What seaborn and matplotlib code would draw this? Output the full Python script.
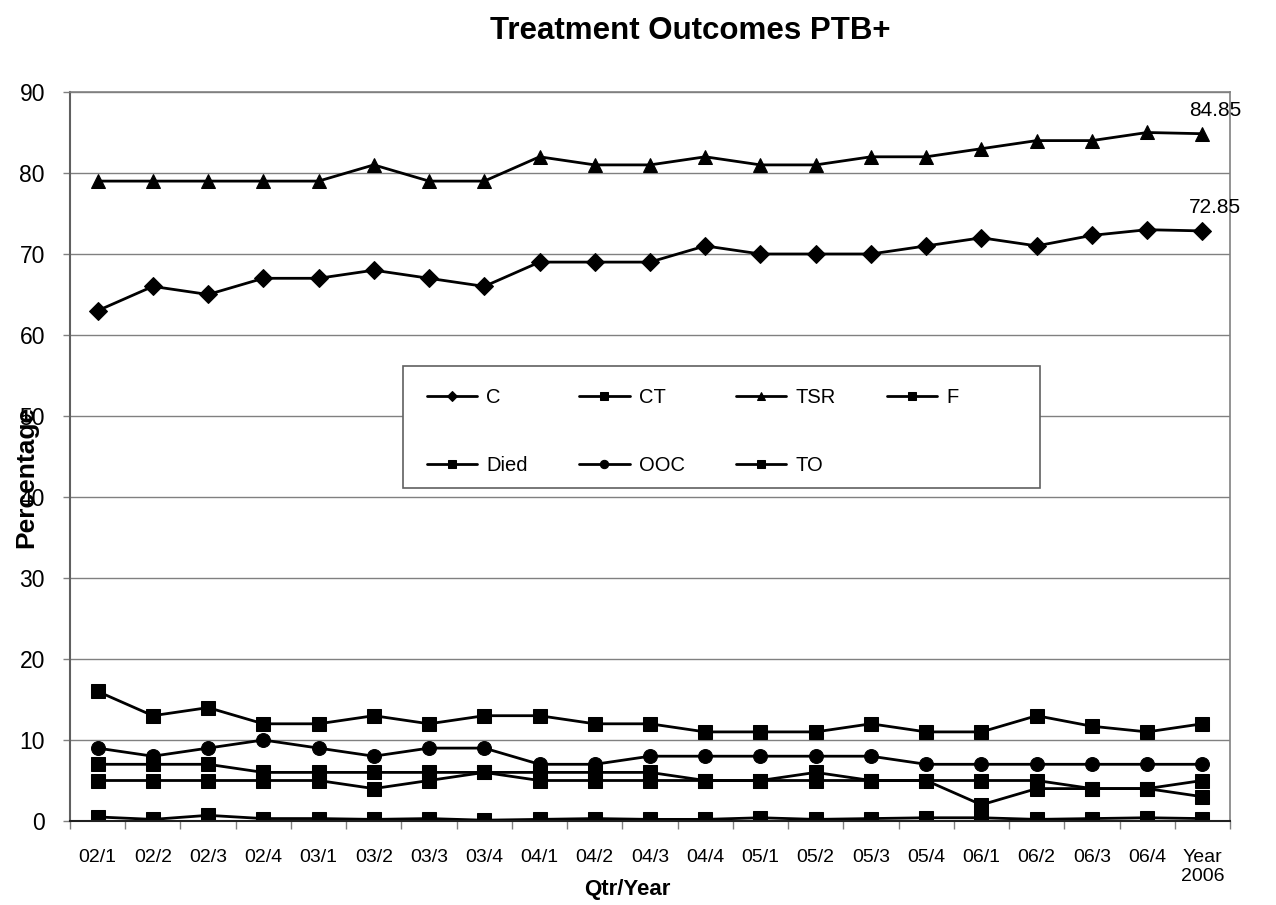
import numpy as np
import pandas as pd
import matplotlib
matplotlib.use("Agg")
import matplotlib.pyplot as plt
from matplotlib.patches import Rectangle
import seaborn as sns
from matplotlib.ticker import FixedLocator

categories = ["02/1", "02/2", "02/3", "02/4", "03/1", "03/2", "03/3", "03/4",
              "04/1", "04/2", "04/3", "04/4", "05/1", "05/2", "05/3", "05/4",
              "06/1", "06/2", "06/3", "06/4", "Year\n2006"]
C = [63, 66, 65, 67, 67, 68, 67, 66, 69, 69, 69, 71, 70, 70, 70, 71, 72, 71, 72.3, 73, 72.85]
CT = [16, 13, 14, 12, 12, 13, 12, 13, 13, 12, 12, 11, 11, 11, 12, 11, 11, 13, 11.7, 11, 12]
TSR = [79, 79, 79, 79, 79, 81, 79, 79, 82, 81, 81, 82, 81, 81, 82, 82, 83, 84, 84, 85, 84.85]
F = [0.5, 0.2, 0.7, 0.3, 0.3, 0.2, 0.3, 0.1, 0.2, 0.3, 0.2, 0.2, 0.4, 0.2, 0.3, 0.4, 0.4, 0.2, 0.3, 0.4, 0.3]
Died = [7, 7, 7, 6, 6, 6, 6, 6, 6, 6, 6, 5, 5, 6, 5, 5, 5, 5, 4, 4, 3]
OOC = [9, 8, 9, 10, 9, 8, 9, 9, 7, 7, 8, 8, 8, 8, 8, 7, 7, 7, 7, 7, 7]
TO = [5, 5, 5, 5, 5, 4, 5, 6, 5, 5, 5, 5, 5, 5, 5, 5, 2, 4, 4, 4, 5]

series = [("C", C, "D", 9), ("CT", CT, "s", 10), ("TSR", TSR, "^", 10),
          ("F", F, "s", 10), ("Died", Died, "s", 10), ("OOC", OOC, "o", 10),
          ("TO", TO, "s", 10)]

sns.set_theme(style="white")
plt.rcParams['font.family'] = ['Liberation Sans', 'DejaVu Sans']
for k in ["text.color", "axes.labelcolor", "xtick.color", "ytick.color"]:
    plt.rcParams[k] = "black"

fig = plt.figure(figsize=(12.76, 9.05), dpi=100)
ax = fig.add_axes([70/1276, 1-821/905, 1160/1276, 729/905])

x = np.arange(len(categories))
handles = {}
for name, vals, mk, ms in series:
    sns.lineplot(x=x, y=vals, ax=ax, color="black", marker=mk, markersize=ms,
                 markeredgecolor="black", markerfacecolor="black",
                 linewidth=2.0, label=name, legend=False)
    handles[name] = ax.lines[-1]

ax.set_xlim(-0.5, len(categories) - 0.5)
ax.set_ylim(0, 90)
ax.set_yticks(np.arange(0, 91, 10))
ax.yaxis.grid(True, color="#808080", linewidth=1.0)
ax.set_axisbelow(True)
ax.set_xticks(x)
ax.set_xticklabels(categories, fontsize=14, linespacing=1.15)
ax.xaxis.set_minor_locator(FixedLocator(np.arange(-0.5, len(categories), 1)))
ax.tick_params(axis="x", which="major", length=0, pad=20)
ax.tick_params(axis="x", which="minor", length=6, width=1, color="#808080", direction="out", bottom=True)
ax.tick_params(axis="y", which="major", length=5, width=1, color="#808080", direction="out", left=True,
               labelsize=16.5, pad=13)

for side in ["top", "right"]:
    ax.spines[side].set_color("#808080")
    ax.spines[side].set_linewidth(1.2)
ax.spines["left"].set_color("#606060")
ax.spines["left"].set_linewidth(1.5)
ax.spines["bottom"].set_color("#202020")
ax.spines["bottom"].set_linewidth(1.5)

ax.set_xlabel("Qtr/Year", fontsize=16, fontweight="bold")
ax.xaxis.set_label_coords((627-70)/1160, (821-879)/729)
ax.set_ylabel("Percentage", fontsize=19, fontweight="bold")
ax.yaxis.set_label_coords((38-70)/1160, (821-477)/729)

fig.suptitle("Treatment Outcomes PTB+", fontsize=22.5, fontweight="bold", x=690/1276, y=1-16/905)

# data labels on the last points
last = len(categories) - 1
ax.annotate(f"{TSR[-1]:.2f}", (last, TSR[-1]), xytext=(9, 17), textcoords="offset points",
            ha="center", va="center", fontsize=15)
ax.annotate(f"{C[-1]:.2f}", (last, C[-1]), xytext=(9, 17), textcoords="offset points",
            ha="center", va="center", fontsize=15)

# legend frame
fig.add_artist(Rectangle((403/1276, 1-488/905), 637/1276, 122/905, transform=fig.transFigure,
                         fill=True, facecolor="white", edgecolor="#606060", linewidth=1.2, zorder=5))
order = ["C", "Died", "CT", "OOC", "TSR", "TO", "F"]
leg = fig.legend([handles[n] for n in order], order, ncol=4, loc="upper left",
                 bbox_to_anchor=(427/1276, 1-388/905), frameon=False,
                 fontsize=14.5, markerscale=0.6, handlelength=2.5, handletextpad=0.45,
                 labelspacing=2.45, columnspacing=2.55, borderpad=0, borderaxespad=0)
leg.set_zorder(6)

fig.savefig("out.png", dpi=100, facecolor="white")
